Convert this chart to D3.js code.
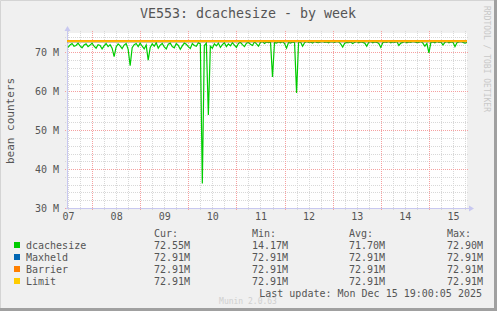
<!DOCTYPE html>
<html>
<head>
<meta charset="utf-8">
<script src="https://cdn.jsdelivr.net/npm/d3@7"></script>
<style>
  body { margin: 0; background: #F0F0F0; }
  svg text { font-family: "DejaVu Sans Mono", monospace; }
</style>
</head>
<body>
<svg id="chart" width="497" height="311"></svg>
<script>
// hourly samples, Dec 7 12:00 -> Dec 15 19:00, in millions
var dcachesize = [
  71.3, 71.9, 72.3, 71.6, 71.8, 72.4, 71.7, 71.2, 71.9, 72.2, 71.5, 71.9, 72.4, 71.6, 71.1, 72.0, 71.8, 70.9, 71.7, 72.3,
  71.5, 72.0, 71.1, 68.9, 71.4, 72.2, 71.7, 71.0, 71.9, 72.3, 70.8, 66.6, 71.2, 72.0, 72.3, 71.5, 72.4, 71.6, 70.9, 71.9,
  68.0, 71.3, 72.2, 71.6, 72.5, 71.1, 71.9, 72.3, 71.4, 70.9, 72.1, 72.4, 71.5, 71.2, 72.3, 71.8, 70.8, 71.7, 72.4, 72.1,
  71.5, 71.0, 72.3, 71.8, 71.6, 72.5, 72.2, 36.3, 71.8, 72.4, 53.9, 71.6, 71.1, 72.2, 71.7, 72.4, 71.3, 72.0, 72.5, 71.5,
  72.2, 71.7, 72.5, 71.9, 71.3, 72.3, 72.6, 72.0, 71.5, 72.4, 72.6, 72.1, 71.8, 72.7, 72.2, 71.6, 72.6, 72.8, 72.3, 72.7,
  72.5, 72.7, 63.7, 72.6, 72.4, 72.7, 72.5, 72.8, 72.3, 71.1, 72.6, 72.4, 72.7, 72.5, 59.6, 72.6, 72.7, 71.6, 72.5, 72.8,
  72.6, 72.7, 72.4, 72.8, 72.6, 72.5, 72.7, 72.8, 72.6, 72.7, 72.5, 72.8, 72.7, 72.6, 72.8, 72.7, 72.2, 71.4, 72.4, 72.6,
  72.5, 72.7, 72.3, 72.6, 72.8, 72.5, 72.7, 72.6, 72.4, 71.6, 72.6, 72.8, 72.5, 72.7, 72.6, 72.3, 71.3, 72.5, 72.7, 72.6,
  72.8, 72.5, 72.7, 72.6, 72.8, 71.8, 72.4, 72.6, 72.8, 72.5, 72.7, 72.6, 72.8, 72.7, 72.5, 72.6, 72.8, 72.4, 71.6, 72.3,
  69.9, 72.6, 72.7, 72.5, 72.8, 72.6, 72.7, 71.9, 72.6, 72.8, 72.5, 72.7, 72.6, 71.5, 72.5, 72.7, 72.8, 72.6, 72.4, 72.55
];
var maxheld = 72.91, barrier = 72.91, limit = 72.91;

var seriesNames = ["dcachesize", "Maxheld", "Barrier", "Limit"];
var seriesColors = ["#00CC00", "#0066B3", "#FF8000", "#FFCC00"];
var curVals = ["72.55M", "72.91M", "72.91M", "72.91M"];
var minVals = ["14.17M", "72.91M", "72.91M", "72.91M"];
var avgVals = ["71.70M", "72.91M", "72.91M", "72.91M"];
var maxVals = ["72.90M", "72.91M", "72.91M", "72.91M"];
var yTicks = [30, 40, 50, 60, 70];
var dayLabels = ["07", "08", "09", "10", "11", "12", "13", "14", "15"];

function drawGraph() {
  var svg = d3.select("#chart");
  var W = 497, H = 311;
  var pLeft = 67, pRight = 467, pTop = 33, pBottom = 208;

  // frame
  svg.append("rect").attr("x", 0).attr("y", 0).attr("width", W).attr("height", H).attr("fill", "#F0F0F0");
  svg.append("path").attr("d", "M0.5,310 V0.5 H496").attr("stroke", "#D4D4D4").attr("fill", "none");
  svg.append("path").attr("d", "M495.5,0 V309.5 H0").attr("stroke", "#A0A0A0").attr("stroke-width", 3).attr("fill", "none");

  var t0 = new Date(2025, 11, 7, 11, 30);
  var t1 = new Date(2025, 11, 15, 19, 0);
  var x = d3.scaleTime().domain([t0, t1]).range([pLeft, pRight]);
  var y = d3.scaleLinear().domain([30, 75]).range([pBottom, pTop]);

  svg.append("rect").attr("x", pLeft).attr("y", pTop).attr("width", pRight - pLeft).attr("height", pBottom - pTop).attr("fill", "#FFFFFF");

  // grid
  var g = svg.append("g");
  var minorY = d3.range(32, 76, 2).filter(function(v) { return v % 10 != 0; });
  minorY.forEach(function(v) {
    var yy = Math.round(y(v)) + 0.5;
    g.append("line").attr("x1", pLeft - 2).attr("x2", pRight + 2).attr("y1", yy).attr("y2", yy)
      .attr("stroke", "#D8D8D8").attr("stroke-dasharray", "1,1");
  });
  var minorX = d3.timeHour.every(6).range(t0, t1).filter(function(d) { return d.getHours() != 0; });
  minorX.forEach(function(d) {
    var xx = Math.round(x(d)) + 0.5;
    g.append("line").attr("x1", xx).attr("x2", xx).attr("y1", pTop - 2).attr("y2", pBottom + 2)
      .attr("stroke", "#D8D8D8").attr("stroke-dasharray", "1,1");
  });
  yTicks.forEach(function(v) {
    var yy = Math.round(y(v)) + 0.5;
    g.append("line").attr("x1", pLeft - 2).attr("x2", pRight + 2).attr("y1", yy).attr("y2", yy)
      .attr("stroke", "#F5A0A0").attr("stroke-dasharray", "1,1");
  });
  d3.timeDay.range(t0, t1).forEach(function(d) {
    var xx = Math.round(x(d)) + 0.5;
    g.append("line").attr("x1", xx).attr("x2", xx).attr("y1", pTop - 2).attr("y2", pBottom + 2)
      .attr("stroke", "#F5A0A0").attr("stroke-dasharray", "1,1");
  });

  // axes lines with arrows
  svg.append("line").attr("x1", pLeft - 1).attr("x2", pRight + 4).attr("y1", pBottom + 0.5).attr("y2", pBottom + 0.5).attr("stroke", "#C8C8F0");
  svg.append("path").attr("d", "M" + (pRight + 2) + "," + (pBottom - 2.5) + " L" + (pRight + 7) + "," + (pBottom + 0.5) + " L" + (pRight + 2) + "," + (pBottom + 3.5) + "Z").attr("fill", "#C8C8F0");
  svg.append("line").attr("x1", pLeft + 0.5).attr("x2", pLeft + 0.5).attr("y1", pBottom + 1).attr("y2", pTop - 4).attr("stroke", "#C8C8F0");
  svg.append("path").attr("d", "M" + (pLeft - 2.5) + "," + (pTop - 2) + " L" + (pLeft + 0.5) + "," + (pTop - 7) + " L" + (pLeft + 3.5) + "," + (pTop - 2) + "Z").attr("fill", "#C8C8F0");

  // series
  var times = dcachesize.map(function(v, i) { return d3.timeHour.offset(new Date(2025, 11, 7, 12), i); });
  var line = d3.line().x(function(d, i) { return x(times[i]); }).y(function(d) { return y(d); });
  svg.append("path").datum(dcachesize).attr("d", line).attr("fill", "none")
    .attr("stroke", seriesColors[0]).attr("stroke-width", 1.2);
  [maxheld, barrier, limit].forEach(function(v, k) {
    svg.append("line").attr("x1", pLeft).attr("x2", pRight).attr("y1", y(v)).attr("y2", y(v))
      .attr("stroke", seriesColors[k + 1]).attr("stroke-width", k == 2 ? 1.2 : 2.2);
  });

  // axis labels
  var yAxis = d3.axisLeft(y).tickValues(yTicks).tickSize(0).tickPadding(8)
    .tickFormat(function(d) { return d + " M"; });
  svg.append("g").attr("transform", "translate(" + pLeft + ",0)").call(yAxis)
    .call(function(s) { s.select(".domain").remove(); })
    .selectAll("text").attr("font-size", 10).attr("fill", "#555").attr("font-family", "DejaVu Sans Mono");

  var noons = dayLabels.map(function(d) { return new Date(2025, 11, +d, 12); });
  var xAxis = d3.axisBottom(x).tickValues(noons).tickSize(0).tickPadding(5)
    .tickFormat(d3.timeFormat("%d"));
  svg.append("g").attr("transform", "translate(0," + pBottom + ")").call(xAxis)
    .call(function(s) { s.select(".domain").remove(); })
    .selectAll("text").attr("font-size", 10).attr("fill", "#555").attr("font-family", "DejaVu Sans Mono");

  // titles
  svg.append("text").attr("x", 248).attr("y", 18).attr("text-anchor", "middle")
    .attr("font-size", 13.3).attr("fill", "#555").text("VE553: dcachesize - by week");
  svg.append("text").attr("transform", "translate(14,121) rotate(-90)").attr("text-anchor", "middle")
    .attr("font-size", 11).attr("fill", "#555").text("bean counters");
  svg.append("text").attr("transform", "translate(484,59) rotate(90)").attr("text-anchor", "middle")
    .attr("font-size", 8).attr("fill", "#C8C8C8").text("RRDTOOL / TOBI OETIKER");

  // legend
  var cols = [154, 252, 349, 447];
  ["Cur:", "Min:", "Avg:", "Max:"].forEach(function(h, j) {
    svg.append("text").attr("x", cols[j]).attr("y", 237).attr("font-size", 10).attr("fill", "#555").text(h);
  });
  seriesNames.forEach(function(n, i) {
    var yy = 249 + i * 12;
    svg.append("rect").attr("x", 14).attr("y", yy - 7).attr("width", 6).attr("height", 6).attr("fill", seriesColors[i]);
    svg.append("text").attr("x", 26).attr("y", yy).attr("font-size", 10).attr("fill", "#555").text(n);
    [curVals, minVals, avgVals, maxVals].forEach(function(arr, j) {
      svg.append("text").attr("x", cols[j]).attr("y", yy).attr("font-size", 10).attr("fill", "#555").text(arr[i]);
    });
  });
  svg.append("text").attr("x", 482).attr("y", 297).attr("text-anchor", "end")
    .attr("font-size", 10).attr("fill", "#555").text("Last update: Mon Dec 15 19:00:05 2025");
  svg.append("text").attr("x", 248).attr("y", 304).attr("text-anchor", "middle")
    .attr("font-size", 8).attr("fill", "#CFCFCF").text("Munin 2.0.63");
}

drawGraph();
</script>
</body>
</html>
